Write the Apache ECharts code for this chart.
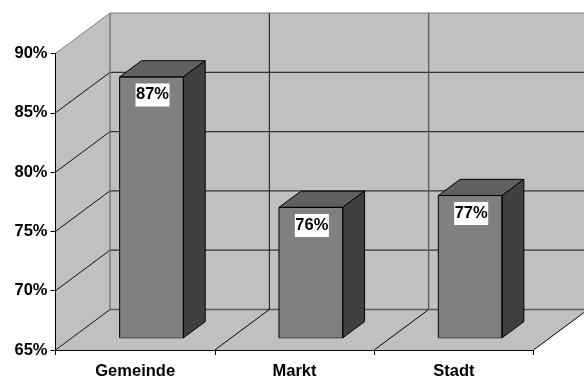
<!DOCTYPE html>
<html>
<head>
<meta charset="utf-8">
<style>html,body{margin:0;padding:0;background:#fff}#chart{width:584px;height:376px}</style>
<script src="https://cdn.jsdelivr.net/npm/echarts@6/dist/echarts.min.js"></script>
</head>
<body>
<div id="chart"></div>
<script>
const categories = ['Gemeinde', 'Markt', 'Stadt'];
const shares = [87, 76, 77];
const yTicks = [65, 70, 75, 80, 85, 90];

const FONT = 'bold 16.5px "Liberation Sans", Arial, sans-serif';
// Oblique projection of the chart box: offset from front plane to back wall.
const DEPTH_X = 54.5, DEPTH_Y = -40.5;
// Bars sit part-way into the box and are shallower than it.
const BAR_INSET = 0.3, BAR_DEPTH = 0.4, BAR_WIDTH = 0.4;

const line = (x1, y1, x2, y2, stroke, lineWidth) => ({
  type: 'line', shape: {x1, y1, x2, y2}, style: {stroke, lineWidth: lineWidth || 1}, silent: true
});
const poly = (points, fill, stroke) => ({
  type: 'polygon', shape: {points}, style: {fill, stroke: stroke || 'none', lineWidth: 1, lineJoin: 'miter'}, silent: true
});

function renderBox(params, api) {
  const band = api.size([1, 0])[0];
  const left = api.coord([0, yTicks[0]])[0] - band / 2;
  const right = left + band * categories.length;
  const bottom = api.coord([0, yTicks[0]])[1];
  const top = api.coord([0, yTicks[yTicks.length - 1]])[1];
  const dx = DEPTH_X, dy = DEPTH_Y;
  const wall = '#c0c0c0';
  const kids = [
    poly([[left + dx, top + dy], [right + dx, top + dy], [right + dx, bottom + dy], [left + dx, bottom + dy]], wall),
    poly([[left, top], [left + dx, top + dy], [left + dx, bottom + dy], [left, bottom]], wall),
    poly([[left, bottom], [left + dx, bottom + dy], [right + dx, bottom + dy], [right, bottom]], wall)
  ];
  // Horizontal rules run along the left wall and across the back wall.
  yTicks.forEach((t, i) => {
    const y = api.coord([0, t])[1];
    const first = i === 0, last = i === yTicks.length - 1;
    const backColor = last ? '#808080' : first ? '#5a5a5a' : '#333333';
    kids.push(line(left + dx, y + dy, right + dx, y + dy, backColor, last ? 1 : 1.3));
    kids.push(line(left, y, left + dx, y + dy, last ? '#808080' : '#111111'));
  });
  // Category dividers cross the floor and climb the back wall.
  categories.concat('').forEach((c, i) => {
    const x = left + band * i;
    if (i > 0) kids.push(line(x, bottom, x + dx, bottom + dy, '#000000'));
    if (i < categories.length) {
      const color = i === 0 ? '#707070' : i === 1 ? '#111111' : '#5a5a5a';
      kids.push(line(x + dx, top + dy, x + dx, bottom + dy, color, i === 1 ? 1 : 1.3));
    }
  });
  return {type: 'group', children: kids};
}

function renderBar(params, api) {
  const band = api.size([1, 0])[0];
  const value = api.value(1);
  const [cx, yTop] = api.coord([api.value(0), value]);
  const yBase = api.coord([api.value(0), yTicks[0]])[1];
  const ox = DEPTH_X * BAR_INSET, oy = DEPTH_Y * BAR_INSET;
  const w = band * BAR_WIDTH;
  const l = cx + ox - w / 2 , r = l + w;
  const t = yTop + oy, b = yBase + oy;
  const bx = DEPTH_X * BAR_DEPTH, by = DEPTH_Y * BAR_DEPTH;
  return {
    type: 'group',
    children: [
      poly([[l, t], [r, t], [r, b], [l, b]], '#808080'),
      poly([[l, t], [l + bx, t + by], [r + bx, t + by], [r, t]], '#606060', '#000000'),
      poly([[r, t], [r + bx, t + by], [r + bx, b + by], [r, b]], '#404040', '#000000'),
      line(l, b, r, b, '#404040'),
      line(l, t, l, b, '#000000'),
      line(r, t, r, b, '#000000'),
      line(l, t, r, t, '#000000'),
      {
        type: 'text', silent: true,
        style: {
          text: value + '%', x: (l + r) / 2 + 1, y: t + 6.5, align: 'center', verticalAlign: 'top',
          font: FONT, fill: '#000000', backgroundColor: '#ffffff', padding: [3, 0.5, 3, 0.5]
        }
      }
    ]
  };
}

const chart = echarts.init(document.getElementById('chart'), null, {renderer: 'canvas'});
chart.setOption({
  animation: false,
  backgroundColor: '#ffffff',
  grid: {left: 55.5, right: 50.5, top: 53.5, bottom: 26, containLabel: false, outerBoundsMode: 'none'},
  xAxis: {
    type: 'category', data: categories, z: 5,
    axisLine: {lineStyle: {color: '#000000', width: 1}},
    axisTick: {show: true, length: 5, lineStyle: {color: '#000000'}},
    axisLabel: {fontWeight: 'bold', fontSize: 16.5, fontFamily: '"Liberation Sans"', color: '#000000', margin: 13, interval: 0},
    splitLine: {show: false}
  },
  yAxis: {
    type: 'value', min: 65, max: 90, interval: 5, z: 5,
    axisLine: {show: true, lineStyle: {color: '#000000', width: 1}},
    axisTick: {show: true, length: 5, lineStyle: {color: '#000000'}},
    axisLabel: {formatter: '{value}%', fontWeight: 'bold', fontSize: 16.5, fontFamily: '"Liberation Sans"', color: '#000000', margin: 8},
    splitLine: {show: false}
  },
  series: [
    {type: 'custom', z: 1, clip: false, data: [[0, yTicks[0]]], renderItem: renderBox, encode: {x: 0, y: 1}},
    {type: 'custom', z: 2, clip: false, data: shares.map((v, i) => [i, v]), renderItem: renderBar, encode: {x: 0, y: 1}}
  ]
});
</script>
</body>
</html>
